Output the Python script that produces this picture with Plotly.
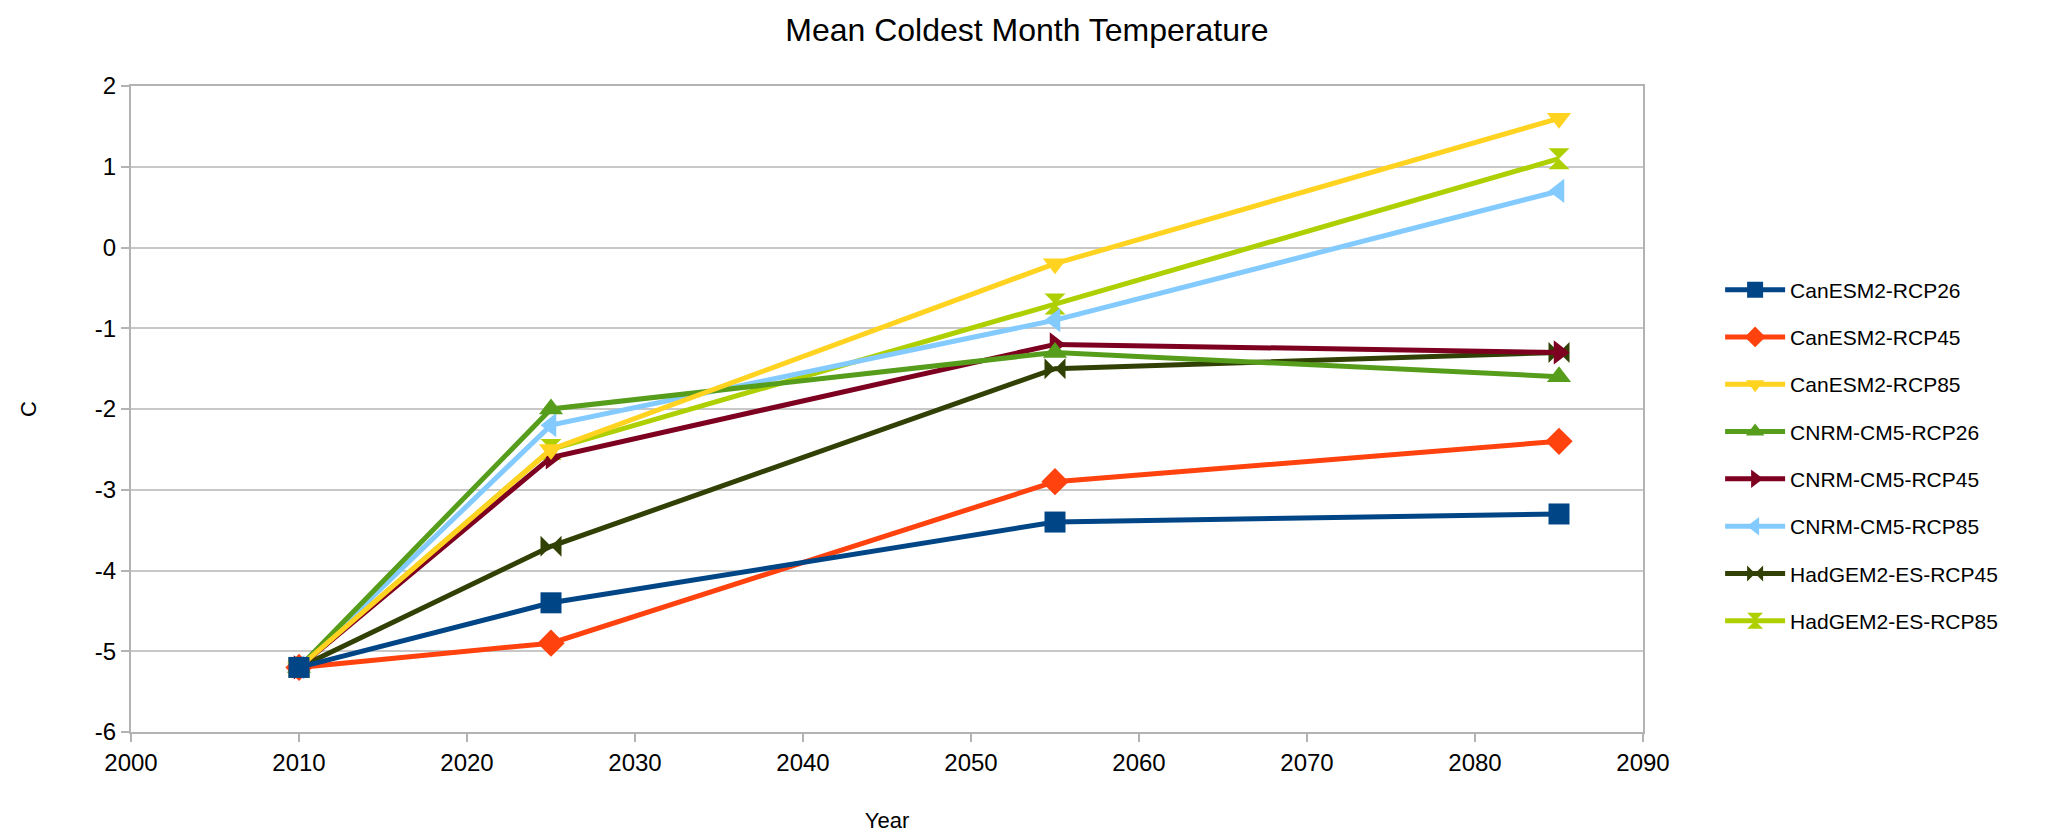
import plotly.graph_objects as go

years = [2010, 2025, 2055, 2085]

series_names = [
    "CanESM2-RCP26", "CanESM2-RCP45", "CanESM2-RCP85",
    "CNRM-CM5-RCP26", "CNRM-CM5-RCP45", "CNRM-CM5-RCP85",
    "HadGEM2-ES-RCP45", "HadGEM2-ES-RCP85",
]
canesm2_rcp26 = [-5.2, -4.4, -3.4, -3.3]
canesm2_rcp45 = [-5.2, -4.9, -2.9, -2.4]
canesm2_rcp85 = [-5.2, -2.5, -0.2, 1.6]
cnrm_rcp26 = [-5.2, -2.0, -1.3, -1.6]
cnrm_rcp45 = [-5.2, -2.6, -1.2, -1.3]
cnrm_rcp85 = [-5.2, -2.2, -0.9, 0.7]
hadgem_rcp45 = [-5.2, -3.7, -1.5, -1.3]
hadgem_rcp85 = [-5.2, -2.5, -0.7, 1.1]
series_values = [canesm2_rcp26, canesm2_rcp45, canesm2_rcp85, cnrm_rcp26,
                 cnrm_rcp45, cnrm_rcp85, hadgem_rcp45, hadgem_rcp85]

colors = ["#004586", "#ff420e", "#ffd320", "#579d1c",
          "#7e0021", "#83caff", "#314004", "#aecf00"]
symbols = ["square", "diamond", "triangle-down", "triangle-up",
           "triangle-right", "triangle-left", "bowtie", "hourglass"]

x_ticks = list(range(2000, 2091, 10))
y_ticks = list(range(-6, 3))

FONT = "Liberation Sans, Arial, sans-serif"

fig = go.Figure()
# draw in reverse so the first series ends on top, keep legend order via legendrank
for i in reversed(range(len(series_names))):
    name = series_names[i]
    vals = series_values[i]
    fig.add_trace(go.Scatter(
        x=years, y=vals, name=name, mode="lines+markers",
        line=dict(color=colors[i], width=5),
        marker=dict(symbol=symbols[i], size=21, color=colors[i],
                    line=dict(width=0)),
        legendgroup=name, legendrank=i + 1,
    ))

fig.update_layout(
    width=2050, height=835,
    paper_bgcolor="white", plot_bgcolor="white",
    font=dict(family=FONT, color="black", size=24),
    title=dict(text="Mean Coldest Month Temperature", x=0.497, xanchor="center",
               y=0.974, yanchor="middle",
               font=dict(size=32, family=FONT)),
    margin=dict(l=123, r=415, t=78, b=111),
    legend=dict(x=1.051, xanchor="left", y=0.428, yanchor="middle",
                font=dict(size=21, family=FONT), tracegroupgap=17,
                itemwidth=60, bgcolor="rgba(0,0,0,0)"),
    showlegend=True,
)
fig.update_xaxes(
    range=[2000, 2090], tickvals=x_ticks, ticktext=[str(v) for v in x_ticks],
    showgrid=False, zeroline=False,
    showline=True, linecolor="#b3b3b3", linewidth=2, mirror=True,
    ticks="outside", ticklen=8, tickcolor="#b3b3b3", tickwidth=2,
    tickfont=dict(size=24),
    title=dict(text="Year", font=dict(size=22), standoff=38),
)
fig.update_yaxes(
    range=[-6, 2], tickvals=y_ticks, ticktext=[str(v) for v in y_ticks],
    showgrid=True, gridcolor="#c8c8c8", gridwidth=1.5, zeroline=False,
    showline=True, linecolor="#b3b3b3", linewidth=2, mirror=True,
    ticks="outside", ticklen=8, tickcolor="#b3b3b3", tickwidth=2,
    tickfont=dict(size=24),
    title=dict(text="C", font=dict(size=22), standoff=52),
)

fig.write_html("out.html")
